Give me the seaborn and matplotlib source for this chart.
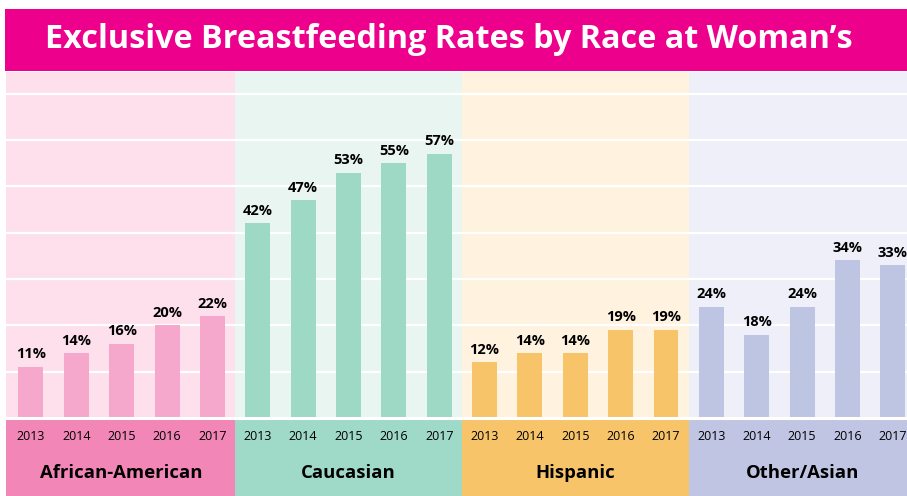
import matplotlib
matplotlib.use("Agg")
import matplotlib.pyplot as plt
from matplotlib.patches import Rectangle
import seaborn as sns
import pandas as pd

# ---- data ----
groups = ["African-American", "Caucasian", "Hispanic", "Other/Asian"]
years = ["2013", "2014", "2015", "2016", "2017"]
african_american = [11, 14, 16, 20, 22]
caucasian = [42, 47, 53, 55, 57]
hispanic = [12, 14, 14, 19, 19]
other_asian = [24, 18, 24, 34, 33]
title = "Exclusive Breastfeeding Rates by Race at Woman\u2019s"

series = [african_american, caucasian, hispanic, other_asian]

# ---- styles ----
bar_colors = ["#F5A8CB", "#9ED9C6", "#F7C46A", "#BEC5E3"]
bg_colors = ["#FDE0EB", "#E8F5F0", "#FFF3DF", "#EEEFF8"]
band_colors = ["#F287B7", "#9FD9C7", "#F7C46A", "#BFC5E3"]
title_color = "#EC008C"

rows = []
for g, vals in zip(groups, series):
    for y, v in zip(years, vals):
        rows.append({"slot": f"{g} {y}", "group": g, "year": y, "value": v})
df = pd.DataFrame(rows)

sns.set_theme(style="white")
plt.rcParams["font.family"] = ["Open Sans", "DejaVu Sans"]

W, H = 907, 496
fig = plt.figure(figsize=(W / 100, H / 100), dpi=100)
fig.patch.set_facecolor("white")

# title band
fig.patches.append(Rectangle((5 / W, 1 - 71 / H), 1 - 5 / W, 62 / H,
                             transform=fig.transFigure, facecolor=title_color,
                             edgecolor="none", zorder=0))
fig.text(449 / W, 1 - 40 / H, title, color="white", fontsize=23.3,
         fontweight="bold", ha="center", va="center")

slot_px = 45.36
x0 = -0.55
x1 = 19.5
left_px = 6
width_px = (x1 - x0) * slot_px
ymax = 74.7
ymin = -16.85
top_px = 72
bottom_px = 496
ax = fig.add_axes([left_px / W, 1 - bottom_px / H, width_px / W, (bottom_px - top_px) / H])

n = len(years)
for gi, g in enumerate(groups):
    a = x0 if gi == 0 else gi * n - 0.5
    b = gi * n + n - 0.5
    ax.add_patch(Rectangle((a, 0), b - a, ymax, facecolor=bg_colors[gi], edgecolor="none", zorder=0))
    ax.add_patch(Rectangle((a, ymin), b - a, -ymin, facecolor=band_colors[gi], edgecolor="none", zorder=0))
    ax.text(gi * n + (n - 1) / 2, -11.9, g, ha="center", va="center",
            fontsize=13.3, fontweight="bold", color="black", zorder=5)

for yv in range(10, 80, 10):
    ax.axhline(yv, color="white", lw=1.6, zorder=1)
ax.axhline(0, color="white", lw=2.2, zorder=4)

sns.barplot(data=df, x="slot", y="value", hue="group", palette=bar_colors,
            hue_order=groups, order=list(df["slot"]), width=0.55, dodge=False,
            saturation=1, legend=False, ax=ax, zorder=3, linewidth=0,
            edgecolor="none")
ax.set_xlim(x0, x1)
ax.set_ylim(ymin, ymax)
ax.axis("off")

for i, row in df.iterrows():
    ax.text(i, row["value"] + 1.2, f"{row['value']}%", ha="center", va="bottom",
            fontsize=10.5, fontweight="bold", color="black", zorder=5)
    ax.text(i, -4.1, row["year"], ha="center", va="center", fontsize=9,
            color="black", zorder=5)

fig.savefig("out.png", dpi=100)
